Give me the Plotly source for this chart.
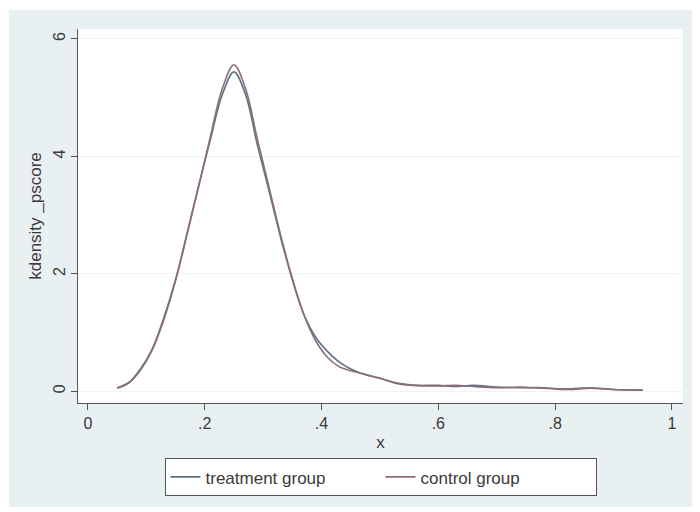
import plotly.graph_objects as go

# ---- data ----
x_vals = [0.05, 0.07, 0.09, 0.11, 0.13, 0.15, 0.17, 0.19, 0.21, 0.23, 0.25, 0.27,
          0.29, 0.31, 0.33, 0.35, 0.37, 0.39, 0.41, 0.43, 0.45, 0.47, 0.50, 0.53,
          0.56, 0.60, 0.63, 0.66, 0.70, 0.74, 0.78, 0.82, 0.86, 0.90, 0.95]
treatment = [0.06, 0.15, 0.38, 0.72, 1.25, 1.90, 2.70, 3.52, 4.30, 5.05, 5.44, 5.05,
             4.20, 3.42, 2.62, 1.90, 1.30, 0.92, 0.68, 0.50, 0.38, 0.30, 0.22, 0.13,
             0.10, 0.10, 0.08, 0.10, 0.07, 0.06, 0.06, 0.03, 0.05, 0.03, 0.02]
control = [0.05, 0.14, 0.36, 0.70, 1.22, 1.88, 2.68, 3.50, 4.35, 5.15, 5.56, 5.15,
           4.30, 3.48, 2.66, 1.92, 1.30, 0.86, 0.58, 0.42, 0.35, 0.30, 0.22, 0.14,
           0.10, 0.09, 0.10, 0.08, 0.06, 0.07, 0.05, 0.04, 0.06, 0.03, 0.02]
series_names = ["treatment group", "control group"]
x_tickvals = [0, 0.2, 0.4, 0.6, 0.8, 1]
x_ticktext = ["0", ".2", ".4", ".6", ".8", "1"]
y_tickvals = [0, 2, 4, 6]
y_ticktext = ["0", "2", "4", "6"]

FONT = "Liberation Sans, Arial, sans-serif"
TXT = "#3a3a3a"
BG = "#E9F0F2"

fig = go.Figure()
fig.add_trace(go.Scatter(x=x_vals, y=treatment, mode="lines", name=series_names[0],
                         line=dict(color="#5a7383", width=1.6, shape="spline")))
fig.add_trace(go.Scatter(x=x_vals, y=control, mode="lines", name=series_names[1],
                         line=dict(color="#8e6c78", width=1.6, shape="spline")))

def strip(x0, x1, y0, y1):
    return dict(type="rect", xref="paper", yref="paper", x0=x0, x1=x1, y0=y0, y1=y1,
                fillcolor="white", line=dict(width=0), layer="above")

# page body has an 8px margin, so the figure is 692x504 placed at (8, 8)
fig.update_layout(
    width=692, height=504,
    margin=dict(l=70, r=17, t=21, b=109),
    paper_bgcolor=BG, plot_bgcolor="white",
    font=dict(family=FONT, size=16, color=TXT),
    showlegend=True,
    legend=dict(orientation="h", x=0.5, xanchor="center", y=-0.148, yanchor="top",
                bgcolor="white", bordercolor="#555555", borderwidth=1,
                font=dict(family=FONT, size=17, color=TXT), entrywidth=170,
                traceorder="normal"),
    xaxis=dict(range=[-0.017, 1.019], tickvals=x_tickvals, ticktext=x_ticktext,
               showgrid=False, zeroline=False, showline=True, linecolor="#555555",
               linewidth=1, ticks="outside", ticklen=6, tickcolor="#555555",
               tickfont=dict(size=16, color=TXT),
               title=dict(text="x", font=dict(size=17, color=TXT), standoff=4)),
    yaxis=dict(range=[-0.2, 6.17], tickvals=y_tickvals, ticktext=y_ticktext,
               tickangle=-90, showgrid=True, gridcolor="#eef3f4", gridwidth=1,
               zeroline=False, showline=True, linecolor="#555555", linewidth=1,
               ticks="outside", ticklen=6, tickcolor="#555555",
               tickfont=dict(size=16, color=TXT),
               title=dict(text="kdensity _pscore", font=dict(size=17, color=TXT),
                          standoff=4)),
    shapes=[
        strip(-0.2, 1.1, 1.0508, 1.1),
        strip(-0.2, -0.114, -0.4, 1.1),
        strip(-0.2, 1.1, -0.4, -0.278),
        strip(1.0231, 1.1, -0.4, 1.1),
    ],
)

fig.write_html("out.html")
